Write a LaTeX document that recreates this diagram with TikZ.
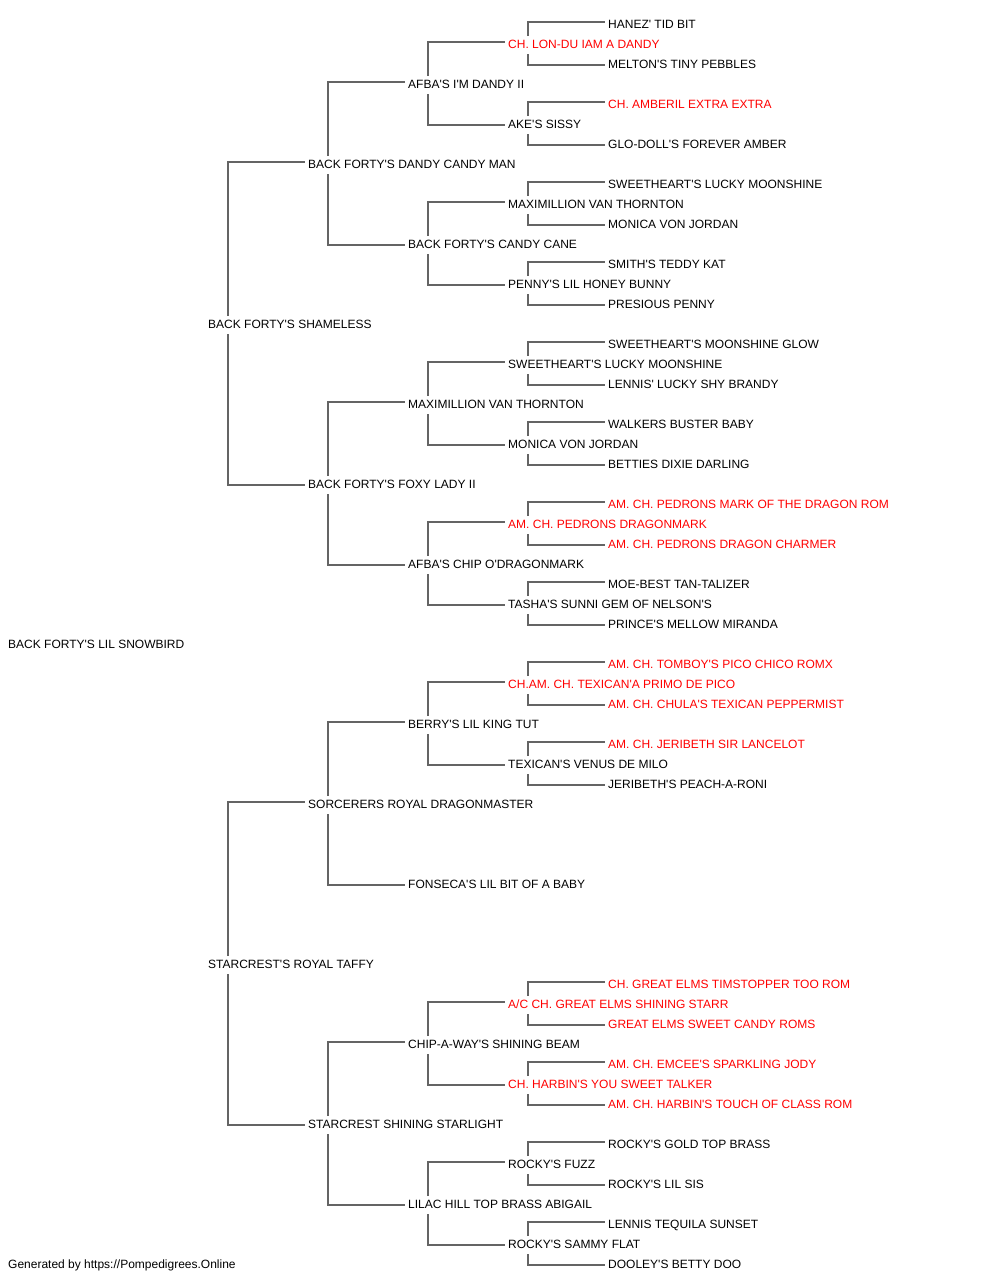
\documentclass[tikz,border=0pt]{standalone}
\usepackage{fontspec}
\setmainfont{Liberation Sans}
\newcommand\q{\textquotesingle}
\definecolor{lgray}{RGB}{100,100,100}
\definecolor{chred}{RGB}{255,0,0}
\tikzset{
  nm/.style={anchor=west, inner sep=0pt, text height=10.6pt, text depth=0pt, font=\fontsize{12}{14}\selectfont, text=black},
  chn/.style={nm, text=chred},
  ln/.style={draw=lgray, line width=1.3pt}
}
\newcommand\pbr[3]{%
  \draw[ln] ([xshift=20pt,yshift=7pt]#1.west) |- ([xshift=-3pt,yshift=1pt]#2.west);
  \draw[ln] ([xshift=20pt,yshift=-11pt]#1.west) |- ([xshift=-3pt,yshift=-2pt]#3.west);}
\begin{document}
\begin{tikzpicture}[x=1pt,y=-1pt]
\useasboundingbox (0,0) rectangle (1000,1280);
% gen 0
\node[nm] (r) at (8,643) {BACK FORTY\q S LIL SNOWBIRD};
% gen 1
\node[nm] (s) at (208,323) {BACK FORTY\q S SHAMELESS};
\node[nm] (d) at (208,963) {STARCREST\q S ROYAL TAFFY};
% gen 2
\node[nm] (ss) at (308,163) {BACK FORTY\q S DANDY CANDY MAN};
\node[nm] (sd) at (308,483) {BACK FORTY\q S FOXY LADY II};
\node[nm] (ds) at (308,803) {SORCERERS ROYAL DRAGONMASTER};
\node[nm] (dd) at (308,1123) {STARCREST SHINING STARLIGHT};
% gen 3
\node[nm] (sss) at (408,83) {AFBA\q S I\q M DANDY II};
\node[nm] (ssd) at (408,243) {BACK FORTY\q S CANDY CANE};
\node[nm] (sds) at (408,403) {MAXIMILLION VAN THORNTON};
\node[nm] (sdd) at (408,563) {AFBA\q S CHIP O\q DRAGONMARK};
\node[nm] (dss) at (408,723) {BERRY\q S LIL KING TUT};
\node[nm] (dsd) at (408,883) {FONSECA\q S LIL BIT OF A BABY};
\node[nm] (dds) at (408,1043) {CHIP-A-WAY\q S SHINING BEAM};
\node[nm] (ddd) at (408,1203) {LILAC HILL TOP BRASS ABIGAIL};
% gen 4
\node[chn] (ssss) at (508,43) {CH. LON-DU IAM A DANDY};
\node[nm] (sssd) at (508,123) {AKE\q S SISSY};
\node[nm] (ssds) at (508,203) {MAXIMILLION VAN THORNTON};
\node[nm] (ssdd) at (508,283) {PENNY\q S LIL HONEY BUNNY};
\node[nm] (sdss) at (508,363) {SWEETHEART\q S LUCKY MOONSHINE};
\node[nm] (sdsd) at (508,443) {MONICA VON JORDAN};
\node[chn] (sdds) at (508,523) {AM. CH. PEDRONS DRAGONMARK};
\node[nm] (sddd) at (508,603) {TASHA\q S SUNNI GEM OF NELSON\q S};
\node[chn] (dsss) at (508,683) {CH.AM. CH. TEXICAN\q A PRIMO DE PICO};
\node[nm] (dssd) at (508,763) {TEXICAN\q S VENUS DE MILO};
\node[chn] (ddss) at (508,1003) {A/C CH. GREAT ELMS SHINING STARR};
\node[chn] (ddsd) at (508,1083) {CH. HARBIN\q S YOU SWEET TALKER};
\node[nm] (ddds) at (508,1163) {ROCKY\q S FUZZ};
\node[nm] (dddd) at (508,1243) {ROCKY\q S SAMMY FLAT};
% gen 5
\node[nm] (sssss) at (608,23) {HANEZ\q\ TID BIT};
\node[nm] (ssssd) at (608,63) {MELTON\q S TINY PEBBLES};
\node[chn] (sssds) at (608,103) {CH. AMBERIL EXTRA EXTRA};
\node[nm] (sssdd) at (608,143) {GLO-DOLL\q S FOREVER AMBER};
\node[nm] (ssdss) at (608,183) {SWEETHEART\q S LUCKY MOONSHINE};
\node[nm] (ssdsd) at (608,223) {MONICA VON JORDAN};
\node[nm] (ssdds) at (608,263) {SMITH\q S TEDDY KAT};
\node[nm] (ssddd) at (608,303) {PRESIOUS PENNY};
\node[nm] (sdsss) at (608,343) {SWEETHEART\q S MOONSHINE GLOW};
\node[nm] (sdssd) at (608,383) {LENNIS\q\ LUCKY SHY BRANDY};
\node[nm] (sdsds) at (608,423) {WALKERS BUSTER BABY};
\node[nm] (sdsdd) at (608,463) {BETTIES DIXIE DARLING};
\node[chn] (sddss) at (608,503) {AM. CH. PEDRONS MARK OF THE DRAGON ROM};
\node[chn] (sddsd) at (608,543) {AM. CH. PEDRONS DRAGON CHARMER};
\node[nm] (sddds) at (608,583) {MOE-BEST TAN-TALIZER};
\node[nm] (sdddd) at (608,623) {PRINCE\q S MELLOW MIRANDA};
\node[chn] (dssss) at (608,663) {AM. CH. TOMBOY\q S PICO CHICO ROMX};
\node[chn] (dsssd) at (608,703) {AM. CH. CHULA\q S TEXICAN PEPPERMIST};
\node[chn] (dssds) at (608,743) {AM. CH. JERIBETH SIR LANCELOT};
\node[nm] (dssdd) at (608,783) {JERIBETH\q S PEACH-A-RONI};
\node[chn] (ddsss) at (608,983) {CH. GREAT ELMS TIMSTOPPER TOO ROM};
\node[chn] (ddssd) at (608,1023) {GREAT ELMS SWEET CANDY ROMS};
\node[chn] (ddsds) at (608,1063) {AM. CH. EMCEE\q S SPARKLING JODY};
\node[chn] (ddsdd) at (608,1103) {AM. CH. HARBIN\q S TOUCH OF CLASS ROM};
\node[nm] (dddss) at (608,1143) {ROCKY\q S GOLD TOP BRASS};
\node[nm] (dddsd) at (608,1183) {ROCKY\q S LIL SIS};
\node[nm] (dddds) at (608,1223) {LENNIS TEQUILA SUNSET};
\node[nm] (ddddd) at (608,1263) {DOOLEY\q S BETTY DOO};
% footer
\node[nm] (foot) at (8,1263) {Generated by https://Pompedigrees.Online};
% brackets
\pbr{s}{ss}{sd}
\pbr{d}{ds}{dd}
\pbr{ss}{sss}{ssd}
\pbr{sd}{sds}{sdd}
\pbr{ds}{dss}{dsd}
\pbr{dd}{dds}{ddd}
\pbr{sss}{ssss}{sssd}
\pbr{ssd}{ssds}{ssdd}
\pbr{sds}{sdss}{sdsd}
\pbr{sdd}{sdds}{sddd}
\pbr{dss}{dsss}{dssd}
\pbr{dds}{ddss}{ddsd}
\pbr{ddd}{ddds}{dddd}
\pbr{ssss}{sssss}{ssssd}
\pbr{sssd}{sssds}{sssdd}
\pbr{ssds}{ssdss}{ssdsd}
\pbr{ssdd}{ssdds}{ssddd}
\pbr{sdss}{sdsss}{sdssd}
\pbr{sdsd}{sdsds}{sdsdd}
\pbr{sdds}{sddss}{sddsd}
\pbr{sddd}{sddds}{sdddd}
\pbr{dsss}{dssss}{dsssd}
\pbr{dssd}{dssds}{dssdd}
\pbr{ddss}{ddsss}{ddssd}
\pbr{ddsd}{ddsds}{ddsdd}
\pbr{ddds}{dddss}{dddsd}
\pbr{dddd}{dddds}{ddddd}
\end{tikzpicture}
\end{document}
